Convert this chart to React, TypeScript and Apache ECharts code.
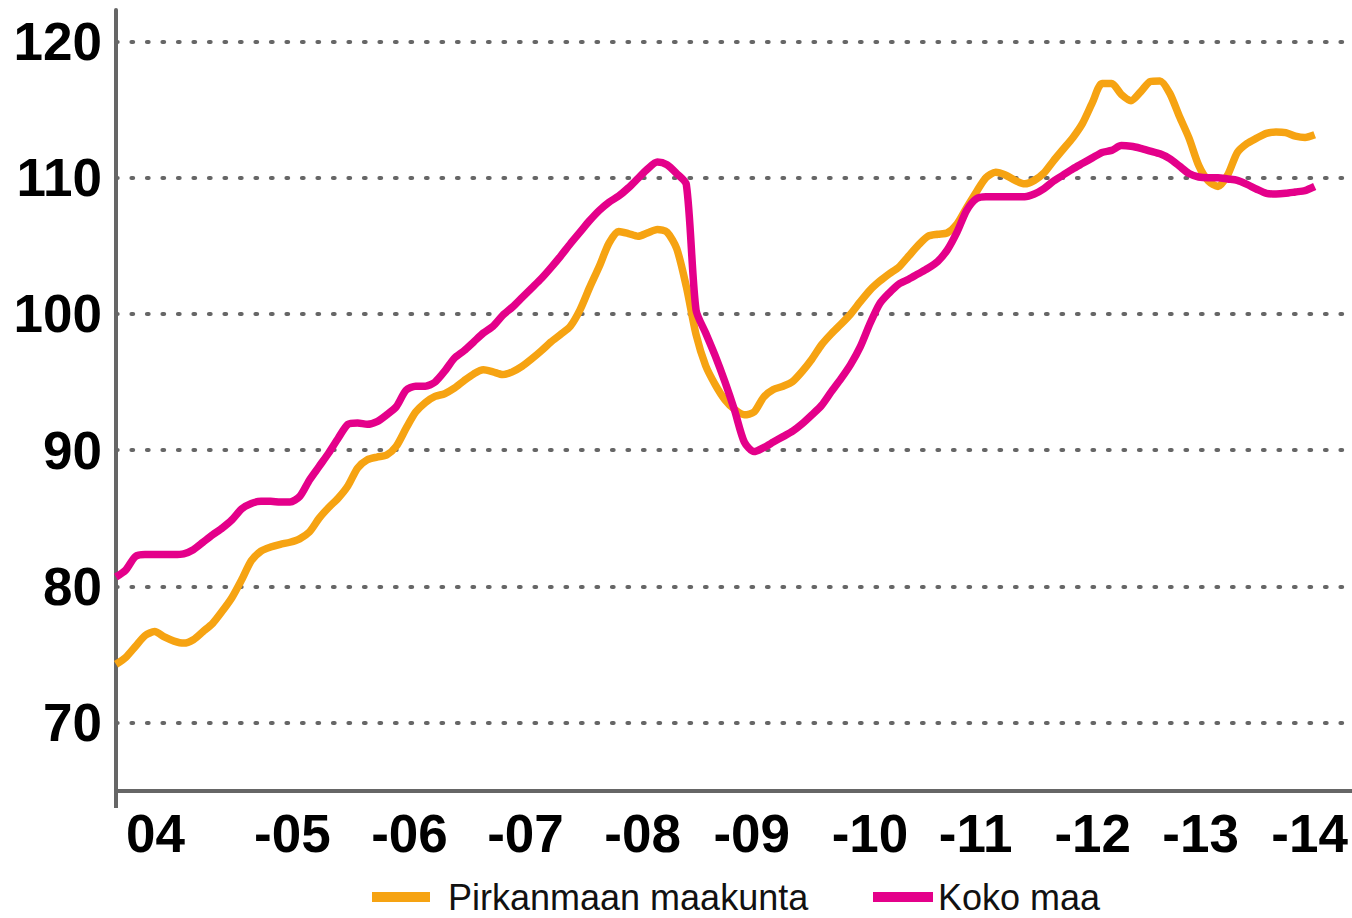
import React, { useEffect, useRef } from "react";
import * as echarts from "echarts";

// Monthly trend index, January 2004 onwards
const START_YEAR = 2004;

const seriesNames = ["Pirkanmaan maakunta", "Koko maa"];
const seriesColors = ["#F6A312", "#E4008A"];

const pirkanmaa = [
  74.3, 74.8, 75.6, 76.4, 76.7, 76.3, 76.0, 75.85, 76.1, 76.7, 77.3, 78.2,
  79.2, 80.5, 81.9, 82.6, 82.9, 83.1, 83.25, 83.5, 84.0, 85.0, 85.8, 86.5,
  87.4, 88.7, 89.3, 89.5, 89.65, 90.3, 91.6, 92.8, 93.5, 93.95, 94.15, 94.55,
  95.1, 95.6, 95.9, 95.75, 95.55, 95.75, 96.15, 96.7, 97.3, 97.95, 98.5, 99.1,
  100.3, 101.95, 103.5, 105.2, 106.05, 105.9, 105.7, 105.95, 106.2, 106.0, 104.8, 102.0,
  98.5, 96.2, 94.8, 93.7, 93.0, 92.6, 92.8, 93.9, 94.45, 94.7, 95.05, 95.8,
  96.7, 97.75, 98.55, 99.25, 100.0, 100.9, 101.75, 102.4, 102.95, 103.45, 104.25, 105.05,
  105.7, 105.85, 105.95, 106.6, 107.8, 108.95, 110.0, 110.4, 110.2, 109.8, 109.55, 109.8,
  110.35, 111.25, 112.1, 112.95, 114.0, 115.5, 116.9, 116.9, 116.1, 115.65, 116.3, 117.05,
  117.1, 116.2, 114.5, 112.9, 110.9, 109.75, 109.35, 110.2, 111.85, 112.5, 112.9, 113.25,
  113.35, 113.3, 113.05, 112.95, 113.15,
];

const kokoMaa = [
  80.7, 81.2, 82.2, 82.35, 82.35, 82.35, 82.35, 82.4, 82.7, 83.25, 83.8, 84.3,
  84.9, 85.7, 86.1, 86.25, 86.25, 86.2, 86.2, 86.6, 87.8, 88.8, 89.8, 90.9,
  91.9, 92.0, 91.9, 92.1, 92.6, 93.2, 94.4, 94.7, 94.7, 95.0, 95.8, 96.75,
  97.3, 97.95, 98.6, 99.1, 99.9, 100.5, 101.2, 101.9, 102.6, 103.4, 104.25, 105.15,
  106.0, 106.85, 107.6, 108.2, 108.65, 109.25, 109.95, 110.65, 111.15, 110.95, 110.3, 109.5,
  100.3, 98.6, 96.9, 95.0, 92.9, 90.6, 89.9, 90.2, 90.6, 91.0, 91.4, 91.95,
  92.6, 93.3, 94.3, 95.25, 96.3, 97.6, 99.3, 100.75, 101.55, 102.2, 102.55, 102.95,
  103.35, 103.85, 104.7, 106.0, 107.6, 108.45, 108.6, 108.6, 108.6, 108.6, 108.6, 108.8,
  109.2, 109.75, 110.2, 110.65, 111.05, 111.45, 111.85, 112.0, 112.35, 112.3, 112.15, 111.95,
  111.75, 111.4, 110.85, 110.3, 110.05, 110.0, 110.0, 109.9, 109.8, 109.5, 109.15, 108.85,
  108.8, 108.85, 108.95, 109.05, 109.35,
];

const yTicks = [70, 80, 90, 100, 110, 120];
const xLabelTexts = ["04", "-05", "-06", "-07", "-08", "-09", "-10", "-11", "-12", "-13", "-14"];
const xLabelAt = [2004.34, 2005.52, 2006.53, 2007.53, 2008.54, 2009.48, 2010.5, 2011.41, 2012.42, 2013.35, 2014.29];

const X_MIN = 2004;
const X_MAX = 2014.655;
const Y_MIN = 65;
const Y_MAX = 122.3;

const monthPos = (i: number) => START_YEAR + i / 12;
const toPairs = (vals: number[]) => vals.map((v, i) => [monthPos(i), v]);

const labelFont = "'Liberation Sans', Arial, sans-serif";

export default function App() {
  const ref = useRef<HTMLDivElement | null>(null);

  useEffect(() => {
    if (!ref.current) return;
    const chart = echarts.init(ref.current, null, { renderer: "svg" });
    const nearestLabel = (v: number) => {
      let best = 0;
      for (let i = 1; i < xLabelAt.length; i++) {
        if (Math.abs(xLabelAt[i] - v) < Math.abs(xLabelAt[best] - v)) best = i;
      }
      return xLabelTexts[best];
    };
    chart.setOption({
      animation: false,
      backgroundColor: "#ffffff",
      grid: { left: 116, right: 0, top: 10, bottom: 127, containLabel: false },
      xAxis: {
        type: "value",
        min: X_MIN,
        max: X_MAX,
        axisLine: { show: true, lineStyle: { color: "#666666", width: 4 } },
        axisTick: {
          show: true,
          customValues: [X_MIN],
          length: 17,
          lineStyle: { color: "#666666", width: 4 },
        },
        splitLine: { show: false },
        axisLabel: {
          customValues: xLabelAt,
          formatter: (v: number) => nearestLabel(v),
          margin: 16,
          color: "#000000",
          fontFamily: labelFont,
          fontWeight: "bold",
          fontSize: 53,
        },
      },
      yAxis: {
        type: "value",
        min: Y_MIN,
        max: Y_MAX,
        axisLine: { show: true, lineStyle: { color: "#666666", width: 4 } },
        axisTick: { show: false, customValues: yTicks },
        axisLabel: {
          customValues: yTicks,
          formatter: (v: number) => String(v),
          margin: 14,
          color: "#000000",
          fontFamily: labelFont,
          fontWeight: "bold",
          fontSize: 53,
        },
        splitLine: {
          show: true,
          lineStyle: { color: "#666666", width: 4.2, type: [1.6, 13.9], cap: "round" },
        },
      },
      legend: [
        {
          data: [{ name: seriesNames[0] }],
          left: 372,
          top: 879,
          padding: 0,
          itemWidth: 58,
          itemHeight: 10,
          icon: "rect",
          textStyle: {
            fontFamily: labelFont,
            fontSize: 36,
            color: "#111111",
            padding: [0, 0, 0, 13],
          },
        },
        {
          data: [{ name: seriesNames[1] }],
          left: 873,
          top: 879,
          padding: 0,
          itemWidth: 60,
          itemHeight: 10,
          icon: "rect",
          textStyle: {
            fontFamily: labelFont,
            fontSize: 36,
            color: "#111111",
          },
        },
      ],
      series: [
        {
          name: seriesNames[0],
          type: "line",
          data: toPairs(pirkanmaa),
          showSymbol: false,
          symbol: "none",
          smooth: 0.25,
          color: seriesColors[0],
          lineStyle: { width: 7.5, color: seriesColors[0] },
          z: 3,
        },
        {
          name: seriesNames[1],
          type: "line",
          data: toPairs(kokoMaa),
          showSymbol: false,
          symbol: "none",
          smooth: 0.25,
          color: seriesColors[1],
          lineStyle: { width: 7.5, color: seriesColors[1] },
          z: 4,
        },
      ],
    });
    return () => chart.dispose();
  }, []);

  return (
    <div
      ref={ref}
      style={{ position: "fixed", left: 0, top: 0, width: 1352, height: 918, background: "#fff" }}
    />
  );
}
